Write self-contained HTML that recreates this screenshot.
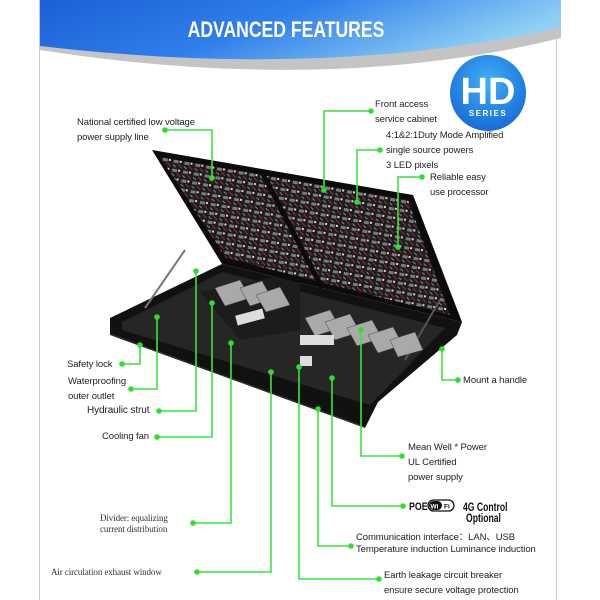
<!DOCTYPE html>
<html><head><meta charset="utf-8"><style>
html,body{margin:0;padding:0;background:#fff;}
body{width:600px;height:600px;overflow:hidden;position:relative;font-family:"Liberation Sans",sans-serif;}
.t{position:absolute;font-size:9.5px;color:#222;line-height:15px;white-space:nowrap;letter-spacing:-0.1px}
.s{font-family:"Liberation Serif",serif;font-size:9px;line-height:11px;color:#333}
</style></head><body>
<svg width="600" height="600" style="position:absolute;left:0;top:0">
<defs>
<linearGradient id="bg" x1="0" y1="0" x2="1" y2="0.3">
<stop offset="0" stop-color="#1c5fd6"/><stop offset="0.5" stop-color="#2f7fea"/><stop offset="1" stop-color="#8fd0f5"/></linearGradient>
<radialGradient id="hd" cx="0.5" cy="0.35" r="0.7"><stop offset="0" stop-color="#3fb0f5"/><stop offset="1" stop-color="#1466d8"/></radialGradient>
<pattern id="led" width="11" height="9" patternUnits="userSpaceOnUse" patternTransform="rotate(10)">
<rect width="11" height="9" fill="#1d1d1d"/><rect x="1" y="1" width="5" height="3" fill="#7a7a7a"/><path d="M6 5 L10 8" stroke="#c02040" stroke-width="1"/><rect x="7" y="1" width="2" height="2" fill="#d8d8d8"/><path d="M1 6 L4 8" stroke="#999" stroke-width="0.8"/></pattern>
</defs>
<line x1="39.5" y1="0" x2="39.5" y2="600" stroke="#ccc"/>
<line x1="556.5" y1="0" x2="556.5" y2="600" stroke="#ccc"/>
<path d="M40 0 L561 0 L561 38 Q330 95 40 50 Z" fill="#c4c4c4"/>
<path d="M40 0 L561 0 L561 27 Q330 80 40 46 Z" fill="url(#bg)"/>
<text x="286" y="37" text-anchor="middle" font-family="Liberation Sans" font-weight="bold" font-size="22" fill="#fff" transform="translate(286 0) scale(0.8 1) translate(-286 0)">ADVANCED FEATURES</text>
<circle cx="488" cy="93" r="38" fill="url(#hd)"/>
<text x="488" y="104" text-anchor="middle" font-weight="bold" font-size="38" fill="#fff" font-family="Liberation Sans">HD</text>
<text x="488" y="116" text-anchor="middle" font-weight="bold" font-size="8" fill="#fff" letter-spacing="1.5">SERIES</text>
<!-- cabinet base -->
<polygon points="110,318 222,264 462,322 457,335 378,402 365,428 110,335" fill="#111"/>
<polygon points="122,322 222,272 445,328 370,405 122,330" fill="#262626"/>
<polygon points="200,292 300,272 300,330 240,340" fill="#1c1c1c"/>
<line x1="110" y1="334" x2="365" y2="427" stroke="#333" stroke-width="1"/>
<!-- lid -->
<polygon points="152,150 413,195 462,322 222,264" fill="#0b0b0b"/>
<polygon points="160,157 408,200 450,315 226,258" fill="url(#led)"/>
<line x1="262" y1="172" x2="322" y2="288" stroke="#0b0b0b" stroke-width="5"/>
<!-- struts -->
<line x1="145" y1="308" x2="185" y2="250" stroke="#777" stroke-width="2"/>
<line x1="405" y1="360" x2="440" y2="300" stroke="#555" stroke-width="2"/>
<!-- power supplies -->
<g fill="#a9a9a9" stroke="#444" stroke-width="0.5">
<polygon points="215,288 240,280 250,298 225,306"/><polygon points="240,288 262,281 272,299 250,306"/><polygon points="256,295 280,287 290,305 266,312"/>
<polygon points="305,318 330,310 340,328 315,336"/><polygon points="325,322 350,314 360,332 335,340"/><polygon points="347,328 372,320 382,338 357,346"/><polygon points="368,335 393,327 403,345 378,353"/><polygon points="390,340 415,332 423,350 398,357"/>
</g>
<g fill="#ddd"><rect x="236" y="312" width="28" height="10" transform="rotate(-15 250 317)"/><rect x="300" y="335" width="34" height="10"/><rect x="300" y="356" width="12" height="10"/></g>
<!-- connectors -->
<g stroke="#3fe23f" stroke-width="1.6" fill="none">
<polyline points="165,130 212,130 212,178"/>
<polyline points="371,111 324,111 324,190"/>
<polyline points="380,150 357,150 357,202"/>
<polyline points="422,177 398,177 398,247"/>
<polyline points="122,364 140,364 140,345"/>
<polyline points="131,389 157,389 157,317"/>
<polyline points="159,411 196,411 196,271"/>
<polyline points="157,437 212,437 212,303"/>
<polyline points="458,380 442,380 442,349"/>
<polyline points="402,456 361,456 361,330"/>
<polyline points="403,506 332,506 332,378"/>
<polyline points="351,546 318,546 318,409"/>
<polyline points="379,579 299,579 299,367"/>
<polyline points="197,572 271,572 271,372"/>
<polyline points="193,523 231,523 231,343"/>
</g>
<g fill="#2ee02e">
<circle cx="165" cy="130" r="2.8"/><circle cx="212" cy="178" r="2.8"/>
<circle cx="371" cy="111" r="2.8"/><circle cx="324" cy="190" r="2.8"/>
<circle cx="380" cy="150" r="2.8"/><circle cx="357" cy="202" r="2.8"/>
<circle cx="422" cy="177" r="2.8"/><circle cx="398" cy="247" r="2.8"/>
<circle cx="122" cy="364" r="2.8"/><circle cx="140" cy="345" r="2.8"/>
<circle cx="131" cy="389" r="2.8"/><circle cx="157" cy="317" r="2.8"/>
<circle cx="159" cy="411" r="2.8"/><circle cx="196" cy="271" r="2.8"/>
<circle cx="157" cy="437" r="2.8"/><circle cx="212" cy="303" r="2.8"/>
<circle cx="458" cy="380" r="2.8"/><circle cx="442" cy="349" r="2.8"/>
<circle cx="402" cy="456" r="2.8"/><circle cx="361" cy="330" r="2.8"/>
<circle cx="403" cy="506" r="2.8"/><circle cx="332" cy="378" r="2.8"/>
<circle cx="351" cy="546" r="2.8"/><circle cx="318" cy="409" r="2.8"/>
<circle cx="379" cy="579" r="2.8"/><circle cx="299" cy="367" r="2.8"/>
<circle cx="197" cy="572" r="2.8"/><circle cx="271" cy="372" r="2.8"/>
<circle cx="193" cy="523" r="2.8"/><circle cx="231" cy="343" r="2.8"/>
</g>
<!-- POE -->
<text x="409" y="510" font-weight="bold" font-size="11" fill="#111" transform="translate(409 0) scale(0.8 1) translate(-409 0)">POE</text>
<rect x="428" y="500" width="26" height="11" rx="5.5" fill="#fff" stroke="#111" stroke-width="1.3"/>
<rect x="429" y="501" width="13" height="9" rx="4.5" fill="#111"/>
<text x="430.5" y="508.5" font-size="6.5" font-weight="bold" fill="#fff">Wi</text>
<text x="444" y="508.5" font-size="6.5" font-weight="bold" fill="#111">Fi</text>
<text x="463" y="511" font-weight="bold" font-size="11.5" fill="#111" transform="translate(463 0) scale(0.75 1) translate(-463 0)">4G Control</text>
<text x="466" y="522" font-weight="bold" font-size="11.5" fill="#111" transform="translate(466 0) scale(0.75 1) translate(-466 0)">Optional</text>
</svg>
<div class="t" style="left:77px;top:115px">National certified low voltage<br>power supply line</div>
<div class="t" style="left:375px;top:97px">Front access<br>service cabinet</div>
<div class="t" style="left:386px;top:128px">4:1&amp;2:1Duty Mode Amplified<br>single source powers<br>3 LED pixels</div>
<div class="t" style="left:430px;top:170px">Reliable easy<br>use processor</div>
<div class="t" style="left:67px;top:357px">Safety lock</div>
<div class="t" style="left:68px;top:374px">Waterproofing<br>outer outlet</div>
<div class="t" style="left:87px;top:403px;font-size:10px">Hydraulic strut</div>
<div class="t" style="left:102px;top:429px">Cooling fan</div>
<div class="t" style="left:463px;top:373px">Mount a handle</div>
<div class="t" style="left:408px;top:440px">Mean Well * Power<br>UL Certified<br>power supply</div>
<div class="t" style="left:356px;top:532px;line-height:12px">Communication interface：LAN、USB<br>Temperature induction Luminance induction</div>
<div class="t" style="left:384px;top:568px">Earth leakage circuit breaker<br>ensure secure voltage protection</div>
<div class="t s" style="left:100px;top:513px">Divider: equalizing<br>current distribution</div>
<div class="t s" style="left:51px;top:567px">Air circulation exhaust window</div>
</body></html>
